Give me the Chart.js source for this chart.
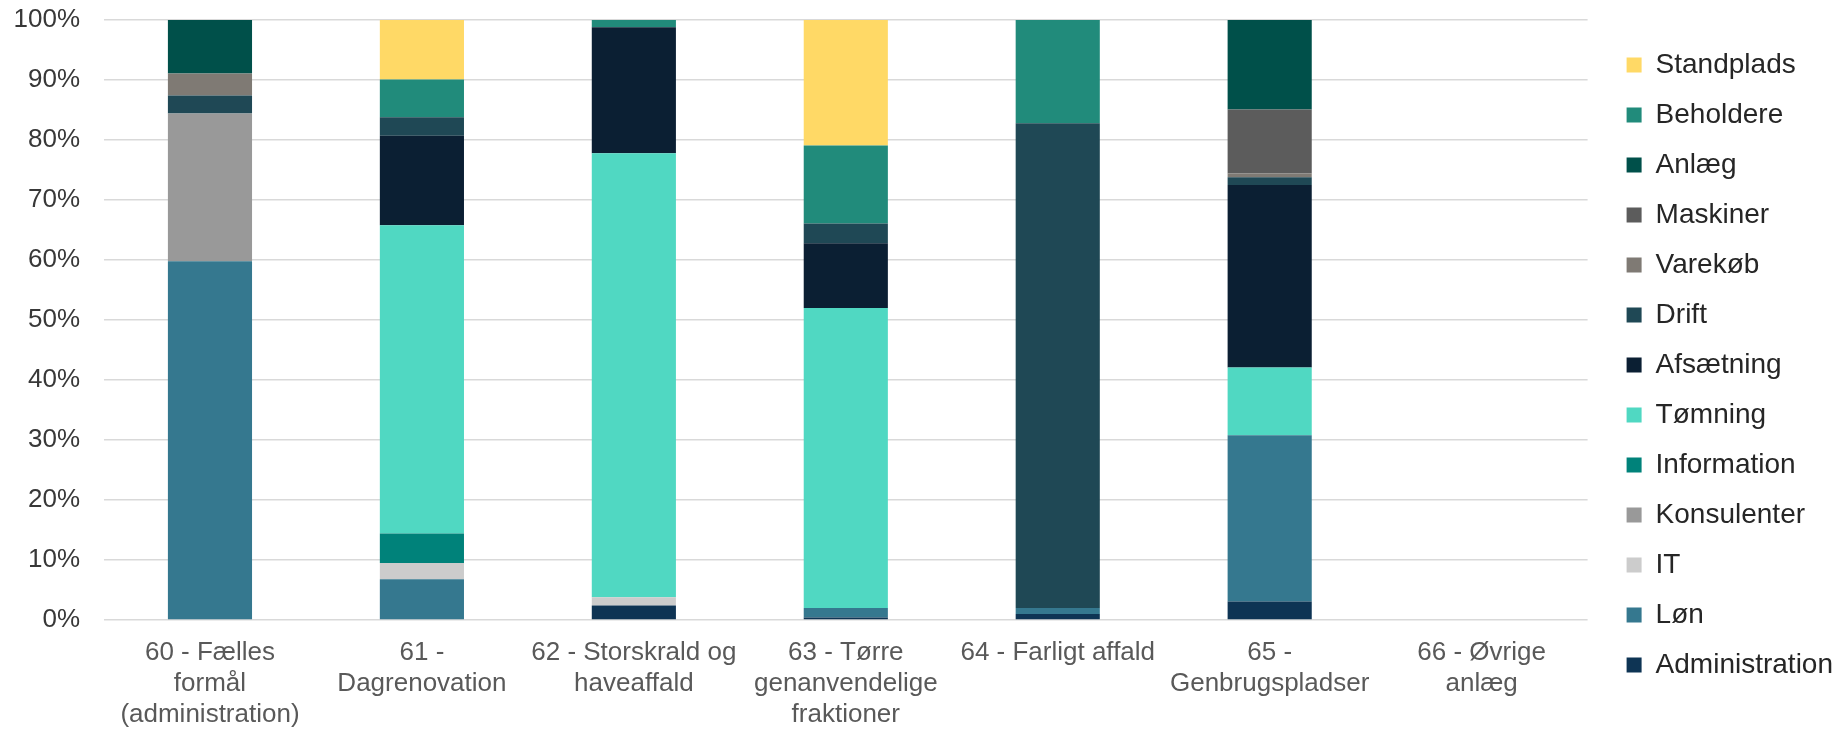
<!DOCTYPE html>
<html>
<head>
<meta charset="utf-8">
<script src="https://cdn.jsdelivr.net/npm/chart.js@4.4.1/dist/chart.umd.min.js"></script>
<style>
  html, body { margin: 0; padding: 0; background: #ffffff; }
  #wrap { width: 1847px; height: 730px; position: relative; }
</style>
</head>
<body>
<div id="wrap"><canvas id="c"></canvas></div>
<script>
// Categories (multi-line tick labels)
const categories = [
  ["60 - Fælles", "formål", "(administration)"],
  ["61 -", "Dagrenovation"],
  ["62 - Storskrald og", "haveaffald"],
  ["63 - Tørre", "genanvendelige", "fraktioner"],
  ["64 - Farligt affald"],
  ["65 -", "Genbrugspladser"],
  ["66 - Øvrige", "anlæg"]
];

// Series values (% share per category), bottom of stack first
const administration = [0, 0, 2.4, 0.4, 1.0, 3.1, 0];
const loen          = [59.8, 6.8, 0, 1.6, 1.0, 27.7, 0];
const it            = [0, 2.7, 1.4, 0, 0, 0, 0];
const konsulenter   = [24.6, 0, 0, 0, 0, 0, 0];
const information   = [0, 4.9, 0, 0, 0, 0, 0];
const toemning      = [0, 51.4, 74.0, 50.0, 0, 11.3, 0];
const afsaetning    = [0, 14.9, 21.0, 10.8, 0, 30.4, 0];
const drift         = [3.0, 3.1, 0, 3.3, 80.8, 1.3, 0];
const varekoeb      = [3.7, 0, 0, 0, 0, 0.6, 0];
const maskiner      = [0, 0, 0, 0, 0, 10.7, 0];
const anlaeg        = [8.9, 0, 0, 0, 0, 14.9, 0];
const beholdere     = [0, 6.3, 1.2, 13.0, 17.2, 0, 0];
const standplads    = [0, 9.9, 0, 20.9, 0, 0, 0];

const seriesNames = ["Administration", "Løn", "IT", "Konsulenter", "Information", "Tømning",
  "Afsætning", "Drift", "Varekøb", "Maskiner", "Anlæg", "Beholdere", "Standplads"];
const seriesValues = [administration, loen, it, konsulenter, information, toemning,
  afsaetning, drift, varekoeb, maskiner, anlaeg, beholdere, standplads];
const seriesColors = ["#0E3454", "#35788F", "#CCCCCC", "#999999", "#00827A", "#50D8C2",
  "#0B1F33", "#1F4855", "#7F7A74", "#5C5C5C", "#00504A", "#218B7B", "#FFD966"];

// Y tick values
const yTicks = [0, 10, 20, 30, 40, 50, 60, 70, 80, 90, 100];

const FONT = '"Liberation Sans", Arial, sans-serif';

const datasets = seriesNames.map((name, i) => ({
  label: name,
  data: seriesValues[i],
  backgroundColor: seriesColors[i],
  borderWidth: 0,
  categoryPercentage: 1.0,
  barPercentage: 0.397
}));

new Chart(document.getElementById('c'), {
  type: 'bar',
  data: { labels: categories, datasets },
  options: {
    responsive: true,
    maintainAspectRatio: false,
    animation: false,
    layout: { padding: { left: 14, right: 4, top: 0, bottom: 0 } },
    plugins: {
      tooltip: { enabled: false },
      legend: {
        position: 'right',
        reverse: true,
        labels: {
          boxWidth: 15,
          boxHeight: 15,
          padding: 22,
          color: '#262626',
          font: { family: FONT, size: 28 }
        }
      }
    },
    scales: {
      x: {
        stacked: true,
        grid: { display: false, drawTicks: false },
        border: { display: false },
        ticks: {
          color: '#595959',
          padding: 17,
          maxRotation: 0,
          autoSkip: false,
          font: { family: FONT, size: 26 }
        },
        afterFit: (axis) => { axis.height = 110; axis.paddingLeft = 0; axis.paddingRight = 0; }
      },
      y: {
        stacked: true,
        min: 0,
        max: 100,
        afterBuildTicks: (axis) => { axis.ticks = yTicks.map(v => ({ value: v })); },
        grid: { color: '#D9D9D9', lineWidth: 1.5, drawTicks: false },
        border: { display: false },
        ticks: {
          color: '#383838',
          padding: 24,
          font: { family: FONT, size: 26 },
          callback: (v) => v + '%'
        },
        afterFit: (axis) => { axis.width = 90; axis.paddingTop = 20; axis.paddingBottom = 0; }
      },
      gap: {
        type: 'linear',
        position: 'right',
        display: true,
        grid: { display: false, drawTicks: false },
        border: { display: false },
        ticks: { display: false },
        afterFit: (axis) => { axis.width = 17; axis.paddingTop = 0; axis.paddingBottom = 0; }
      }
    }
  }
});
</script>
</body>
</html>
